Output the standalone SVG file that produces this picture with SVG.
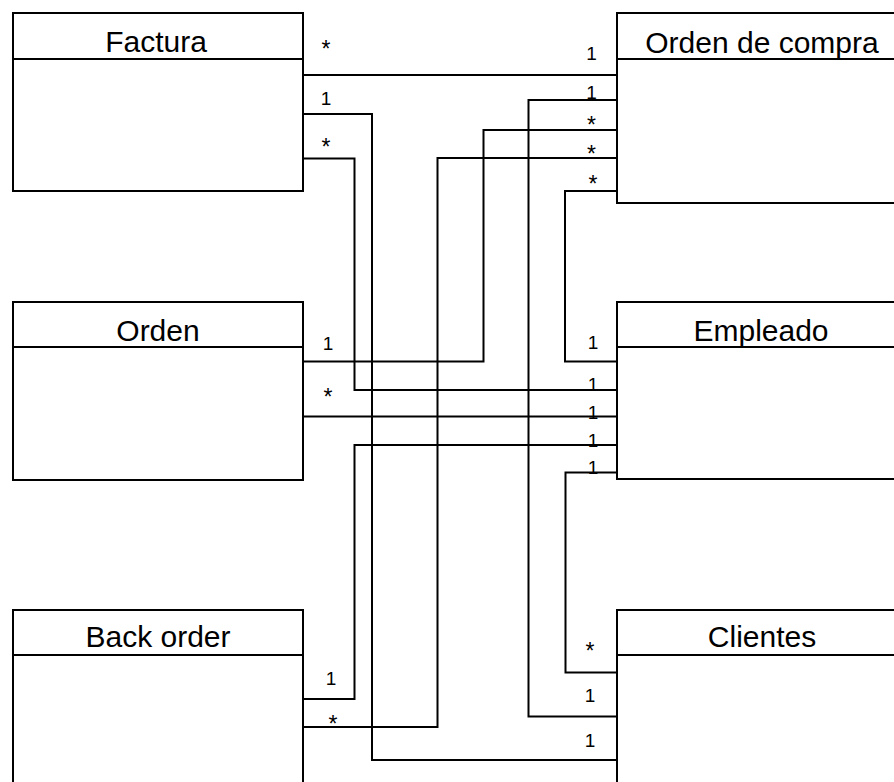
<svg xmlns="http://www.w3.org/2000/svg" width="894" height="782" viewBox="0 0 894 782">
  <style>
    .box { fill: #ffffff; stroke: #000000; stroke-width: 2; }
    .sep { stroke: #000000; stroke-width: 2; }
    .title { font-family: "Liberation Sans", Arial, sans-serif; font-size: 30px; fill: #000000; text-anchor: middle; }
    .link { fill: none; stroke: #000000; stroke-width: 2; }
    .mult { font-family: "Liberation Sans", Arial, sans-serif; font-size: 19px; fill: #000000; text-anchor: middle; }
    .many { font-size: 23px; }
  </style>
  <rect width="894" height="782" fill="#ffffff"/>

  <!-- associations -->
  <g id="connectors">
    <path class="link" d="M303 75 H617"/>
    <path class="link" d="M303 114 H372 V760 H617"/>
    <path class="link" d="M303 158.5 H354.5 V390 H617"/>
    <path class="link" d="M617 100 H528.5 V716.5 H617"/>
    <path class="link" d="M617 130 H483.5 V361.5 H303"/>
    <path class="link" d="M617 158 H437.5 V727 H303"/>
    <path class="link" d="M617 191 H565 V361.5 H617"/>
    <path class="link" d="M303 416.5 H617"/>
    <path class="link" d="M617 445 H354.5 V699 H303"/>
    <path class="link" d="M617 472.5 H565.5 V672.5 H617"/>
  </g>

  <!-- multiplicities -->
  <g id="multiplicities">
    <text class="mult many" x="326" y="57">*</text>
    <text class="mult" x="326" y="105">1</text>
    <text class="mult many" x="326" y="155">*</text>
    <text class="mult" x="591.5" y="60">1</text>
    <text class="mult" x="591.5" y="98.5">1</text>
    <text class="mult many" x="591.5" y="133">*</text>
    <text class="mult many" x="591.5" y="162">*</text>
    <text class="mult many" x="593" y="192">*</text>
    <text class="mult" x="328" y="350">1</text>
    <text class="mult many" x="328" y="405">*</text>
    <text class="mult" x="593" y="349">1</text>
    <text class="mult" x="593" y="391">1</text>
    <text class="mult" x="593" y="419">1</text>
    <text class="mult" x="593" y="446.5">1</text>
    <text class="mult" x="593" y="474">1</text>
    <text class="mult" x="331" y="685">1</text>
    <text class="mult many" x="333" y="732">*</text>
    <text class="mult many" x="590" y="659">*</text>
    <text class="mult" x="590" y="701.5">1</text>
    <text class="mult" x="590" y="747">1</text>
  </g>

  <g id="factura">
    <rect class="box" x="13" y="13" width="290" height="178"/>
    <line class="sep" x1="13" y1="59" x2="303" y2="59"/>
    <text class="title" x="156" y="52">Factura</text>
  </g>

  <g id="orden-de-compra">
    <rect class="box" x="617" y="13" width="290" height="190"/>
    <line class="sep" x1="617" y1="59" x2="907" y2="59"/>
    <text class="title" x="762" y="53">Orden de compra</text>
  </g>

  <g id="orden">
    <rect class="box" x="13" y="302" width="290" height="178"/>
    <line class="sep" x1="13" y1="347" x2="303" y2="347"/>
    <text class="title" x="158" y="341">Orden</text>
  </g>

  <g id="empleado">
    <rect class="box" x="617" y="302" width="290" height="177"/>
    <line class="sep" x1="617" y1="347" x2="907" y2="347"/>
    <text class="title" x="761" y="341">Empleado</text>
  </g>

  <g id="back-order">
    <rect class="box" x="13" y="610" width="290" height="190"/>
    <line class="sep" x1="13" y1="655" x2="303" y2="655"/>
    <text class="title" x="158" y="647">Back order</text>
  </g>

  <g id="clientes">
    <rect class="box" x="617" y="610" width="290" height="190"/>
    <line class="sep" x1="617" y1="655" x2="907" y2="655"/>
    <text class="title" x="762" y="647">Clientes</text>
  </g>
</svg>
